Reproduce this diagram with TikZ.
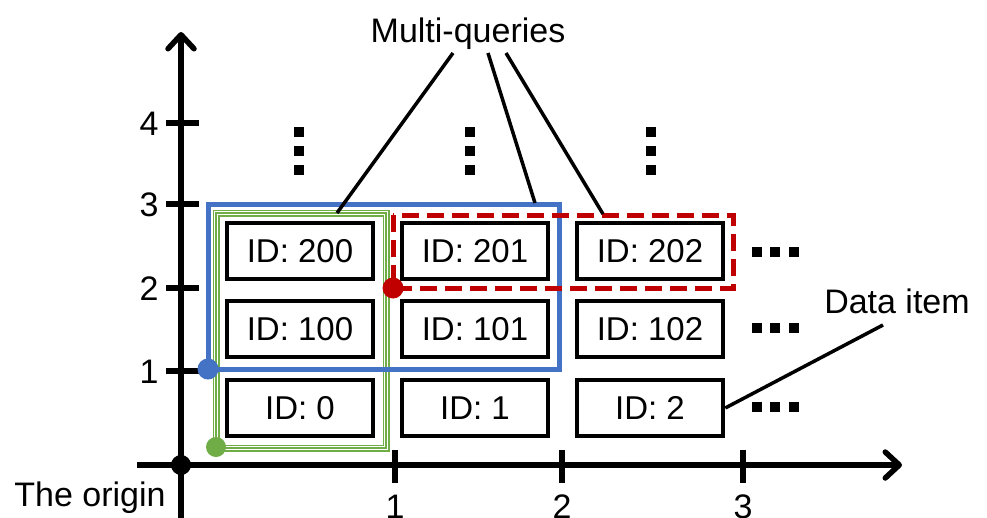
\documentclass[tikz,border=0pt]{standalone}
\usepackage{fontspec}
\setmainfont{Liberation Sans}
\usetikzlibrary{arrows.meta}
\definecolor{qblue}{HTML}{4472C4}
\definecolor{qgreen}{HTML}{70AD47}
\definecolor{qred}{HTML}{C00000}
\tikzset{
  axisline/.style={line width=5.5pt, -{Straight Barb[length=14pt,width=26pt,round]}},
  tickline/.style={line width=5.5pt},
  idbox/.style={draw, line width=4.5pt, minimum width=146pt, minimum height=56pt, inner sep=0pt, font=\fontsize{33}{36}\selectfont},
  lbl/.style={font=\fontsize{34}{37}\selectfont, inner sep=0pt},
  conn/.style={line width=3.5pt},
  sq/.style={fill=black, minimum size=9.5pt, inner sep=0pt},
}
\begin{document}
\begin{tikzpicture}[x=1pt,y=-1pt]
\useasboundingbox (0,0) rectangle (987,517);
% axes
\draw[axisline] (181,525) -- (181,32);
\draw[axisline] (137,465) -- (902,465);
% y ticks
\foreach \yy/\t in {371/1,288/2,204/3,123/4}{
  \draw[tickline] (166,\yy) -- (199,\yy);
  \node[lbl, anchor=base] at (149,\yy+12) {\t};
}
% x ticks
\foreach \xx/\t in {395/1,562/2,743/3}{
  \draw[tickline] (\xx,450) -- (\xx,483);
  \node[lbl, anchor=base] at (\xx,518) {\t};
}
\fill (181,465) circle (10pt);
\node[lbl, anchor=base] (origin) at (90,506) {The origin};
% boxes
\node[idbox] (b200) at (300,251) {ID: 200};
\node[idbox] (b201) at (475,251) {ID: 201};
\node[idbox] (b202) at (650,251) {ID: 202};
\node[idbox] (b100) at (300,329) {ID: 100};
\node[idbox] (b101) at (475,329) {ID: 101};
\node[idbox] (b102) at (650,329) {ID: 102};
\node[idbox] (b0) at (300,408) {ID: 0};
\node[idbox] (b1) at (475,408) {ID: 1};
\node[idbox] (b2) at (650,408) {ID: 2};
% green triple rectangle
\draw[qgreen, line width=7pt] (216,213) rectangle (386,448);
\draw[white, line width=4.4pt] (216,213) rectangle (386,448);
\draw[qgreen, line width=1.2pt] (216,213) rectangle (386,448);
\fill[qgreen] (216,447) circle (10pt);
% blue rectangle
\draw[qblue, line width=5pt] (208,204) rectangle (559,369);
\fill[qblue] (208,369) circle (10.5pt);
% red dashed rectangle
\draw[qred, line width=5pt, dash pattern=on 17pt off 8pt] (393,215) rectangle (733,288);
\fill[qred] (393,288) circle (10.5pt);
% vertical dots
\foreach \xx in {299,470,651}{
  \foreach \yy in {132,151,170}{
    \node[sq] at (\xx,\yy) {};
  }
}
% horizontal dots
\foreach \yy in {252,328,407}{
  \foreach \xx in {757,775,794}{
    \node[sq] at (\xx,\yy) {};
  }
}
% labels and connectors
\node[lbl, anchor=base] (mq) at (468,42) {Multi-queries};
\coordinate (m1) at (453,53);
\coordinate (m2) at (488,53);
\coordinate (m3) at (506,53);
\coordinate (gtop) at (337,213);
\coordinate (btop) at (535,203);
\coordinate (rtop) at (603,214);
\draw[conn] (m1) -- (gtop);
\draw[conn] (m2) -- (btop);
\draw[conn] (m3) -- (rtop);
\node[lbl, anchor=base] (di) at (897,313) {Data item};
\coordinate (d1) at (883,325);
\draw[conn] (d1) -- (b2.east);
\end{tikzpicture}
\end{document}
